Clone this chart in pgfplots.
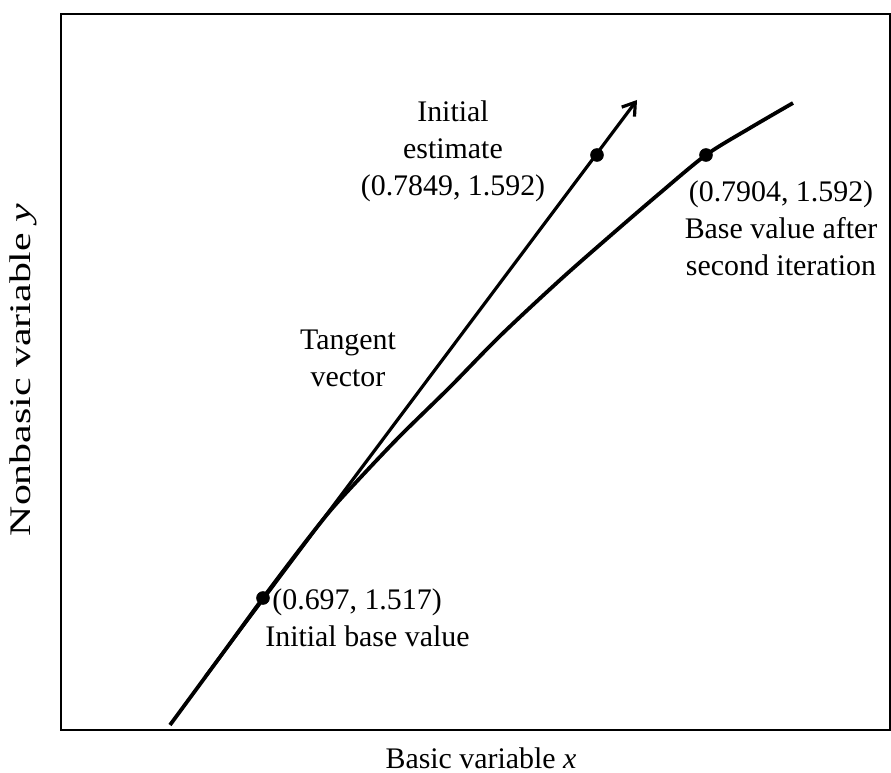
\documentclass[border=0pt]{standalone}
\usepackage{fontspec}
\setmainfont{Liberation Serif}
\usepackage{pgfplots}
\pgfplotsset{compat=1.18}
\usetikzlibrary{arrows.meta}
\tikzset{lbl/.style={font=\fontsize{15}{18.5}\selectfont, align=center, inner sep=0pt}}

% coordinates are read in image pixels: x to the right, y = 773 - row
\begin{document}
\begin{tikzpicture}
\begin{axis}[
    scale only axis,
    width=414.5bp,
    height=358bp,
    xmin=61, xmax=890,
    ymin=43, ymax=759,
    axis line style={line width=1.3pt},
    xtick=\empty, ytick=\empty,
    clip=false,
]
% curve of base values
\addplot[line width=1.9pt, smooth, tension=0.5, mark=none] coordinates {
    (170,48) (220,116) (263,175) (300,224) (330,262) (360,295)
    (400,337) (450,386) (500,437) (560,493) (610,537) (660,580)
    (706,618) (750,645) (793,670)
};
% tangent vector
\addplot[line width=1.6pt, mark=none, -{Straight Barb[length=6pt,width=8pt]}] coordinates {
    (205,96) (637,673)
};
% points
\addplot[only marks, mark=*, mark size=3.2pt, black] coordinates {
    (263,175) (597,618) (706,618)
};
\node[lbl] at (axis cs:453,622) {Initial\\estimate\\(0.7849, 1.592)};
\node[lbl] at (axis cs:781,545) {(0.7904, 1.592)\\Base value after\\second iteration};
\node[lbl] at (axis cs:348,415) {Tangent\\vector};
\node[lbl, anchor=west, align=left] at (axis cs:265,155) {\hspace{3.5bp}(0.697, 1.517)\\Initial base value};
\node[lbl] at (axis cs:481,15) {Basic variable \textit{x}};
\node[lbl, rotate=90] at (axis cs:23,403) {\scalebox{1.4}[1]{Nonbasic variable \textit{y}}};
\coordinate (bl) at (axis cs:0,0);
\coordinate (tr) at (axis cs:891,773);
\end{axis}
\pgfresetboundingbox
\path[use as bounding box] (bl) rectangle (tr);
\end{tikzpicture}
\end{document}
